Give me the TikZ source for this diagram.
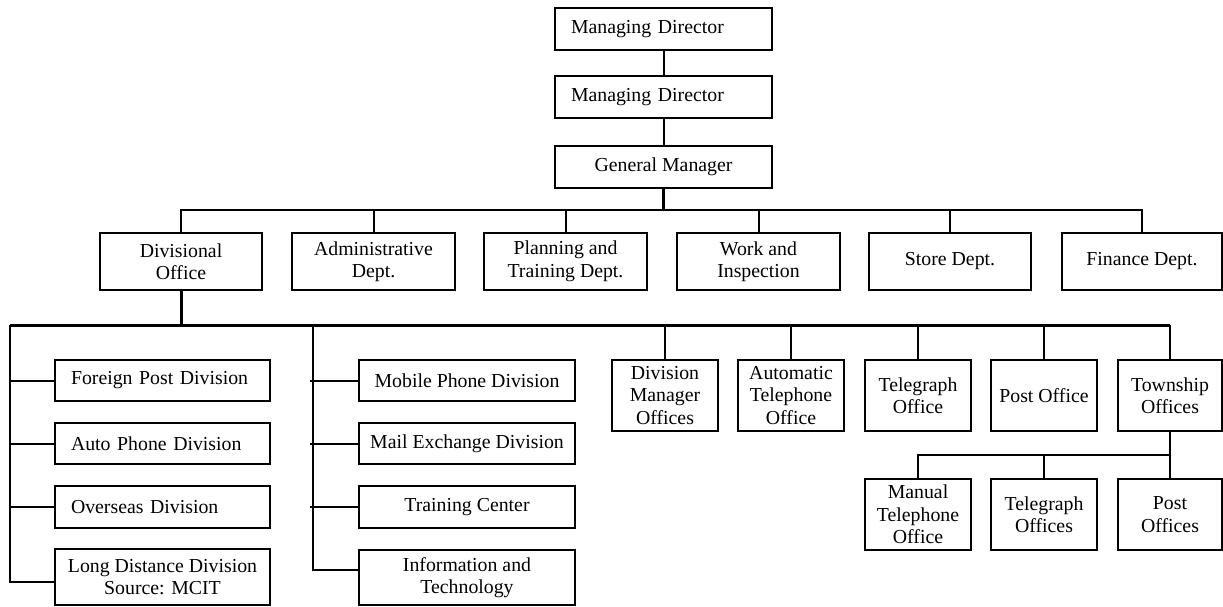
\documentclass[tikz,border=0pt]{standalone}
\usepackage{fontspec}
\setmainfont{Liberation Serif}
\usetikzlibrary{calc}
\begin{document}
\begin{tikzpicture}[x=1pt,y=-1pt,
  every node/.style={font=\fontsize{19.8}{22.5}\selectfont},
  box/.style={draw,line width=2pt,inner sep=0pt,align=center,anchor=center},
  wide/.style={box,minimum width=217pt,minimum height=42pt},
  dept/.style={box,minimum height=57pt},
  office/.style={box,minimum width=106pt,minimum height=71pt},
  divbox/.style={box,minimum width=215pt,minimum height=41pt},
  lefttext/.style={align=left,text width=#1,inner xsep=16pt},
  link/.style={line width=2pt},
  mainlink/.style={line width=3pt}]
\useasboundingbox (0,0) rectangle (1223,607);

% executive chain
\node[wide,lefttext=185pt] (md1) at (663.5,29) {Managing Director};
\node[wide,lefttext=185pt] (md2) at (663.5,97) {Managing Director};
\node[wide] (gm) at (663.5,167) {General Manager};

% departments
\node[dept,minimum width=162pt] (div) at (181,261.5) {Divisional\\Office};
\node[dept,minimum width=163pt] (adm) at (373.5,261.5) {Administrative\\Dept.};
\node[dept,minimum width=163pt] (plan) at (565.5,261.5) {Planning and\\Training Dept.};
\node[dept,minimum width=163pt] (work) at (758.5,261.5) {Work and\\Inspection};
\node[dept,minimum width=162pt] (store) at (950,261.5) {Store Dept.};
\node[dept,minimum width=160pt] (fin) at (1142,261.5) {Finance Dept.};

% divisions, left column
\node[divbox,lefttext=183pt] (fp) at (162.5,380.5) {Foreign Post Division};
\node[divbox,lefttext=183pt] (ap) at (162.5,443.5) {Auto Phone Division};
\node[divbox,lefttext=183pt,minimum height=42pt] (ov) at (162.5,507) {Overseas Division};
\node[divbox,minimum height=56pt] (ld) at (162.5,577) {Long Distance Division\\Source: MCIT};

% divisions, middle column
\node[divbox,minimum width=216pt] (mp) at (467,380.5) {Mobile Phone Division};
\node[divbox,minimum width=216pt] (me) at (467,443.5) {Mail Exchange Division};
\node[divbox,minimum width=216pt,minimum height=42pt] (tc) at (467,507) {Training Center};
\node[divbox,minimum width=216pt,minimum height=55pt] (it) at (467,577.5) {Information and\\Technology};

% offices
\node[office] (dmo) at (665,395.5) {Division\\Manager\\Offices};
\node[office] (ato) at (791,395.5) {Automatic\\Telephone\\Office};
\node[office] (tgo) at (918,395.5) {Telegraph\\Office};
\node[office] (po) at (1044,395.5) {Post Office};
\node[office,minimum width=104pt] (two) at (1170,395.5) {Township\\Offices};

% township sub-offices
\node[office] (mto) at (918,514.5) {Manual\\Telephone\\Office};
\node[office] (tgs) at (1044,514.5) {Telegraph\\Offices};
\node[office,minimum width=104pt] (pos) at (1170,514.5) {Post\\Offices};

% bus points
\coordinate (topbus) at (663.5,210);
\coordinate (busL) at (10,325);
\coordinate (busM) at (313,325);
\coordinate (busR) at (1170,325);
\coordinate (subbus) at (1170,455);

% executive links
\draw[link] (md1) -- (md2);
\draw[link] (md2) -- (gm);
\draw[mainlink] (gm.south) -- (topbus);
\draw[link] (div.north) |- (topbus) -| (fin.north);
\foreach \n in {adm,plan,work,store}
  \draw[link] (\n.north) -- (\n.north |- topbus);

% divisional bus
\draw[mainlink] (div.south) -- (div.south |- busL);
\draw[mainlink] (busL) -- (busR);
\foreach \n in {dmo,ato,tgo,po,two}
  \draw[link] (\n.north |- busR) -- (\n.north);

% left column
\draw[link] (busL) |- ([yshift=-5pt]ld.west);
\foreach \n in {fp,ap,ov}
  \draw[link] (busL |- \n.west) -- (\n.west);

% middle column
\draw[link] (busM) |- ([yshift=8pt]it.west);
\foreach \n in {mp,me,tc}
  \draw[link] ([xshift=-3pt]busM |- \n.west) -- (\n.west);

% township branch
\draw[link] (two.south) -- (pos.north);
\draw[link] (subbus) -| (mto.north);
\draw[link] (subbus -| tgs.north) -- (tgs.north);
\end{tikzpicture}
\end{document}
